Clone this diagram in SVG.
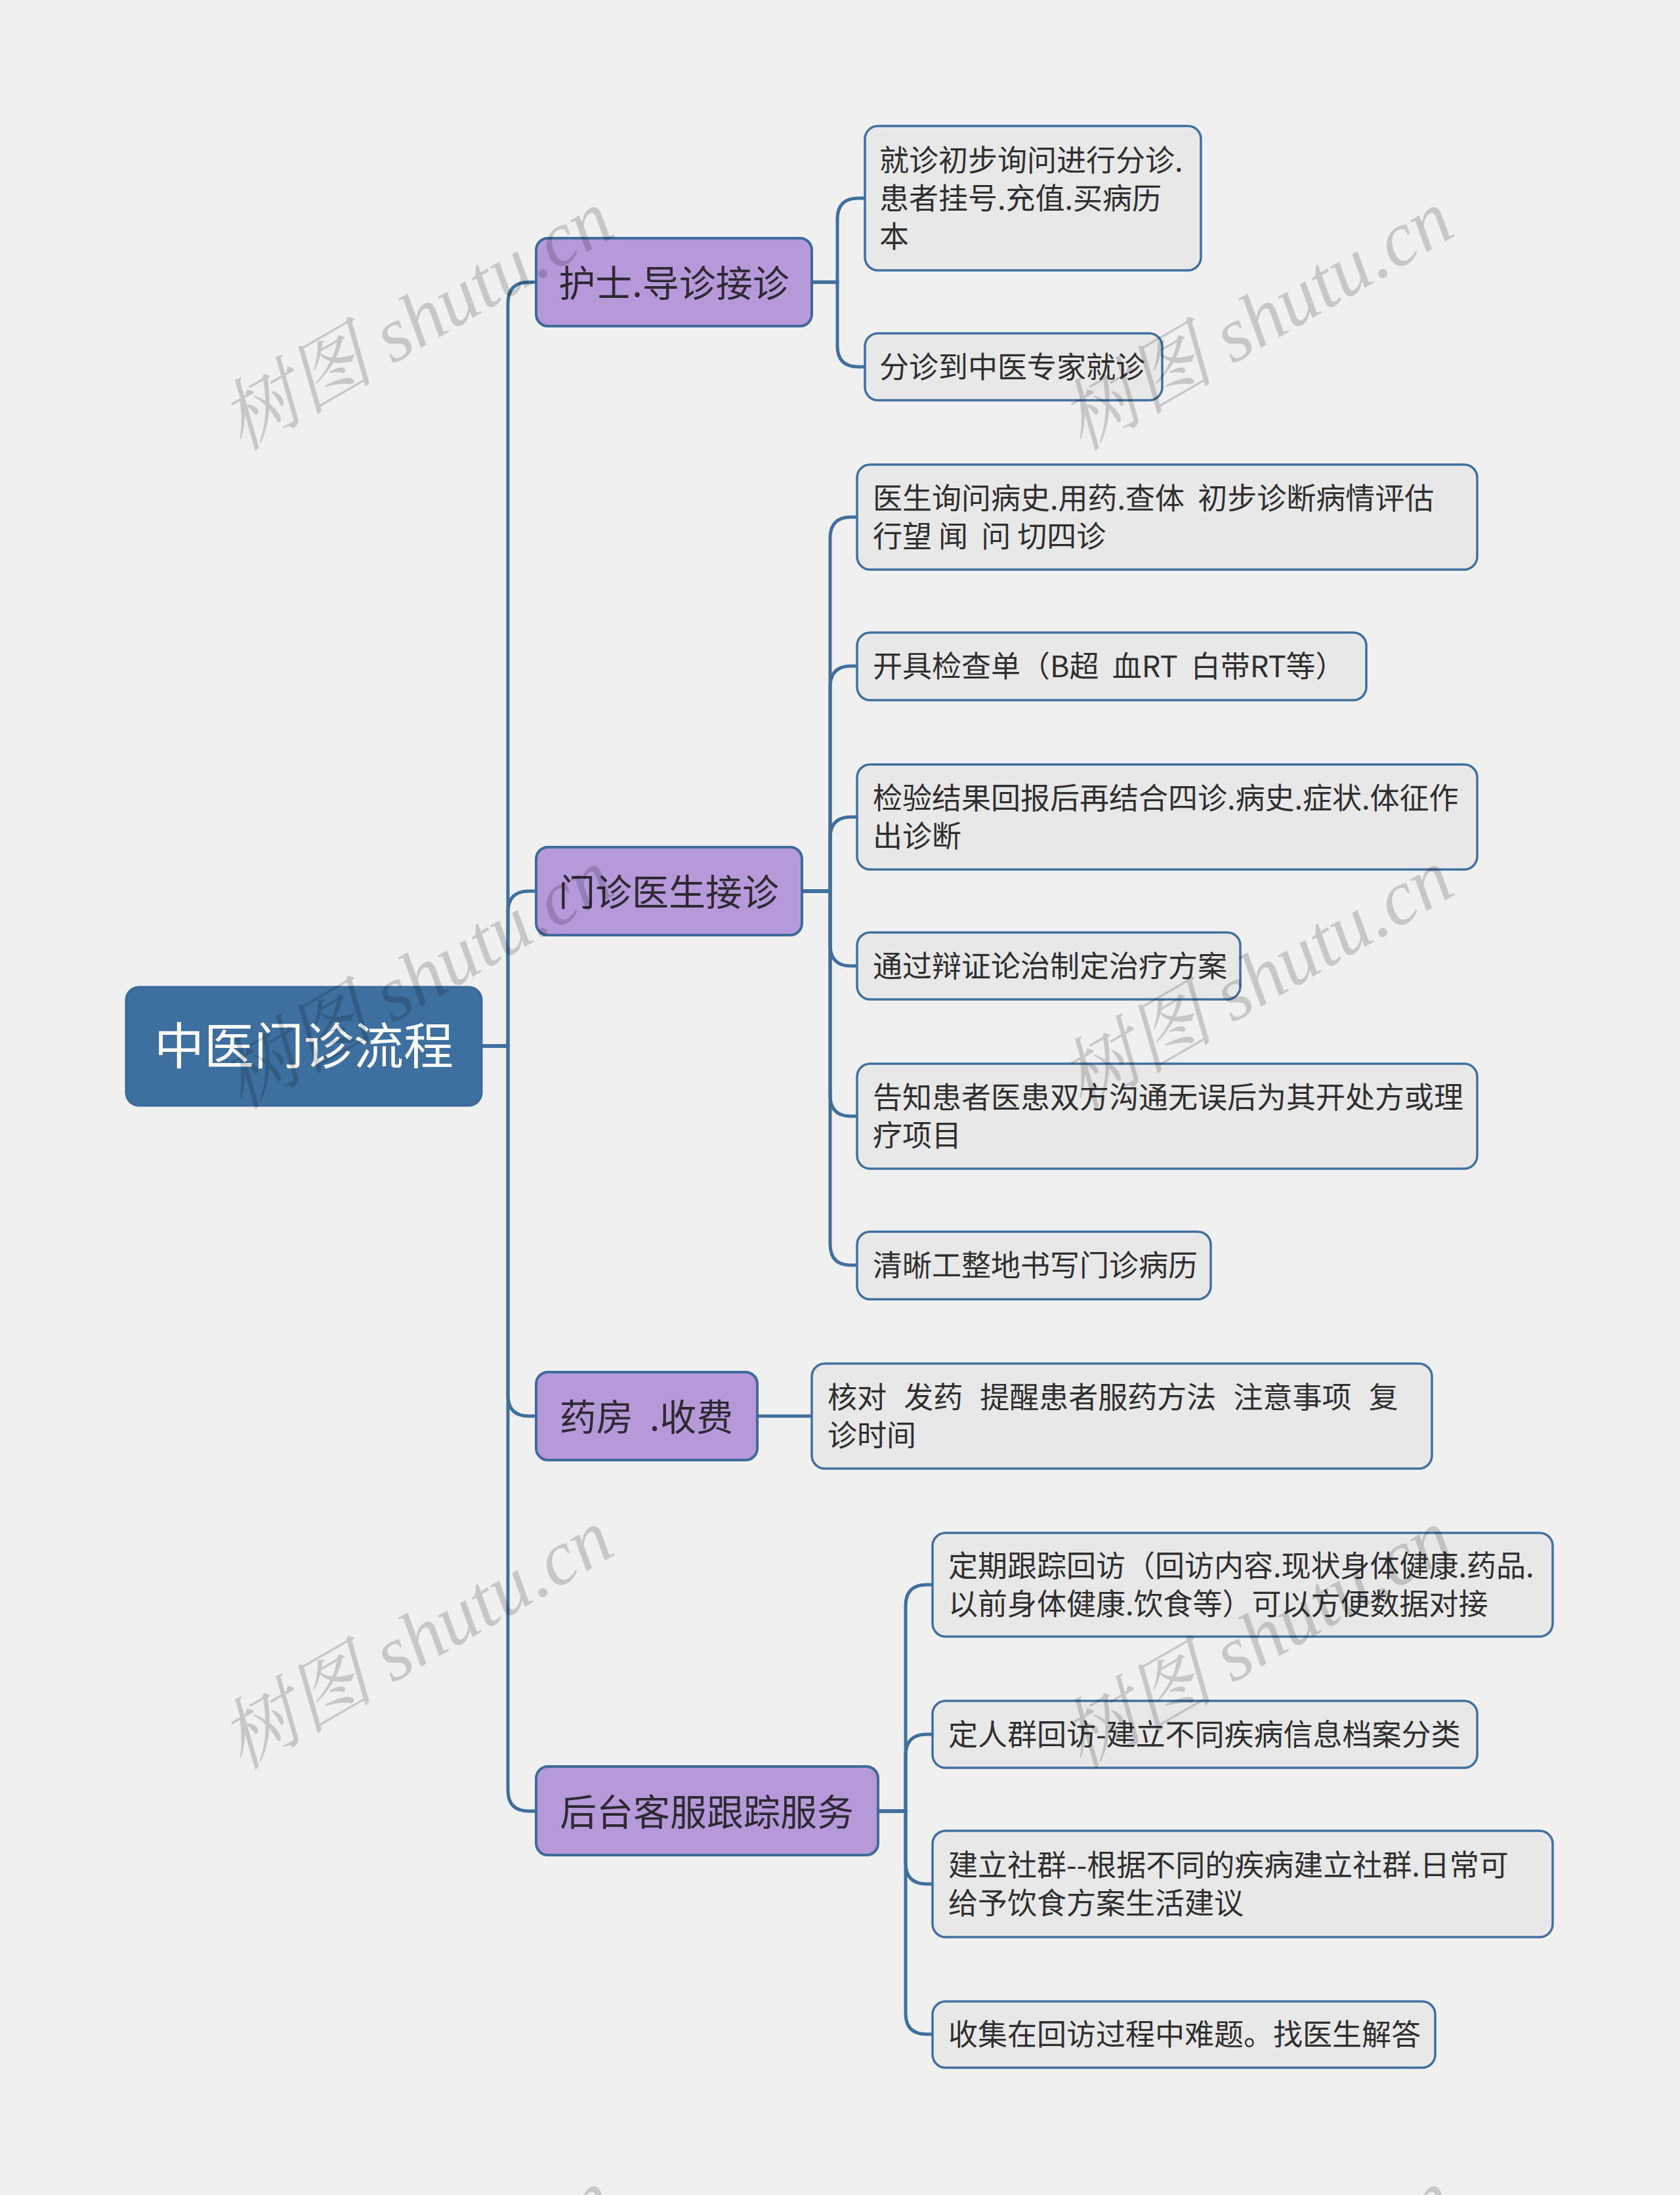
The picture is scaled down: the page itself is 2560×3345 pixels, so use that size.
<svg xmlns="http://www.w3.org/2000/svg" width="2560" height="3345" viewBox="0 0 2560 3345">
<style>
.bg{fill:#f0f0f0}
.root rect{fill:#3d6f9f;stroke:#3a6a98;stroke-width:3}
.root text{fill:#ffffff;font-size:76px;text-anchor:middle}
.l1 rect{fill:#b599d9;stroke:#3e6b99;stroke-width:4}
.l1 text{fill:#2e2a33;font-size:56px;text-anchor:middle}
.leaf rect{fill:#e8e8e8;stroke:#40709f;stroke-width:3.5}
.leaf text{fill:#2f2f2f;font-size:45px}
text{font-family:"Noto Sans CJK SC","Noto Sans",sans-serif}
.conn path{fill:none;stroke:#3f6f9c;stroke-width:5;stroke-linecap:round}
.wm text{font-family:"Liberation Serif","Noto Serif CJK SC","Noto Sans CJK SC",serif;font-style:italic;font-size:118px;fill:#000;fill-opacity:0.17}
</style>
<rect class="bg" x="0" y="0" width="2560" height="3345"/>

<g class="conn" id="connectors">
<path d="M734,1594 H774 V462 Q774,430 806,430 H817"/>
<path d="M734,1594 H774 V1390 Q774,1358 806,1358 H817"/>
<path d="M734,1594 H774 V2126 Q774,2158 806,2158 H817"/>
<path d="M734,1594 H774 V2728 Q774,2760 806,2760 H817"/>
<path d="M1237,430 H1276 V334 Q1276,302 1308,302 H1318"/>
<path d="M1237,430 H1276 V527 Q1276,559 1308,559 H1318"/>
<path d="M1222,1358 H1265 V820 Q1265,788 1297,788 H1306"/>
<path d="M1222,1358 H1265 V1047 Q1265,1015 1297,1015 H1306"/>
<path d="M1222,1358 H1265 V1277 Q1265,1245 1297,1245 H1306"/>
<path d="M1222,1358 H1265 V1440 Q1265,1472 1297,1472 H1306"/>
<path d="M1222,1358 H1265 V1669 Q1265,1701 1297,1701 H1306"/>
<path d="M1222,1358 H1265 V1896 Q1265,1928 1297,1928 H1306"/>
<path d="M1154,2158 H1237"/>
<path d="M1338,2760 H1380 V2447 Q1380,2415 1412,2415 H1421"/>
<path d="M1338,2760 H1380 V2675 Q1380,2643 1412,2643 H1421"/>
<path d="M1338,2760 H1380 V2839 Q1380,2871 1412,2871 H1421"/>
<path d="M1338,2760 H1380 V3068 Q1380,3100 1412,3100 H1421"/>
</g>

<g class="root" id="node-root">
<rect x="192" y="1504" width="542" height="181" rx="20"/>
<text x="463" y="1622">中医门诊流程</text>
</g>

<g class="l1" id="node-hushi">
<rect x="817" y="363" width="420" height="134" rx="18"/>
<text x="1027" y="452">护士.导诊接诊</text>
</g>
<g class="l1" id="node-menzhen">
<rect x="817" y="1291" width="405" height="134" rx="18"/>
<text x="1019" y="1380">门诊医生接诊</text>
</g>
<g class="l1" id="node-yaofang">
<rect x="817" y="2091" width="337" height="134" rx="18"/>
<text x="985" y="2180" xml:space="preserve">药房  .收费</text>
</g>
<g class="l1" id="node-houtai">
<rect x="817" y="2692" width="521" height="135" rx="18"/>
<text x="1077" y="2782">后台客服跟踪服务</text>
</g>

<g class="leaf" id="leaf-h1">
<rect x="1318" y="192" width="512" height="220" rx="20"/>
<text x="1340" y="261">就诊初步询问进行分诊.</text>
<text x="1340" y="319">患者挂号.充值.买病历</text>
<text x="1340" y="377">本</text>
</g>
<g class="leaf" id="leaf-h2">
<rect x="1318" y="508" width="453" height="102" rx="20"/>
<text x="1340" y="576">分诊到中医专家就诊</text>
</g>

<g class="leaf" id="leaf-m1">
<rect x="1306" y="708" width="945" height="160" rx="20"/>
<text x="1330" y="776" xml:space="preserve">医生询问病史.用药.查体  初步诊断病情评估</text>
<text x="1330" y="834" xml:space="preserve">行望 闻  问 切四诊</text>
</g>
<g class="leaf" id="leaf-m2">
<rect x="1306" y="964" width="776" height="103" rx="20"/>
<text x="1330" y="1032" xml:space="preserve">开具检查单（B超  血RT  白带RT等）</text>
</g>
<g class="leaf" id="leaf-m3">
<rect x="1306" y="1165" width="945" height="160" rx="20"/>
<text x="1330" y="1233">检验结果回报后再结合四诊.病史.症状.体征作</text>
<text x="1330" y="1291">出诊断</text>
</g>
<g class="leaf" id="leaf-m4">
<rect x="1306" y="1421" width="584" height="102" rx="20"/>
<text x="1330" y="1489">通过辩证论治制定治疗方案</text>
</g>
<g class="leaf" id="leaf-m5">
<rect x="1306" y="1621" width="945" height="160" rx="20"/>
<text x="1330" y="1689">告知患者医患双方沟通无误后为其开处方或理</text>
<text x="1330" y="1747">疗项目</text>
</g>
<g class="leaf" id="leaf-m6">
<rect x="1306" y="1877" width="539" height="103" rx="20"/>
<text x="1330" y="1945">清晰工整地书写门诊病历</text>
</g>

<g class="leaf" id="leaf-y1">
<rect x="1237" y="2078" width="945" height="160" rx="20"/>
<text x="1261" y="2146" xml:space="preserve" word-spacing="3">核对  发药  提醒患者服药方法  注意事项  复</text>
<text x="1261" y="2204">诊时间</text>
</g>

<g class="leaf" id="leaf-t1">
<rect x="1421" y="2336" width="945" height="158" rx="20"/>
<text x="1445" y="2403">定期跟踪回访（回访内容.现状身体健康.药品.</text>
<text x="1445" y="2461">以前身体健康.饮食等）可以方便数据对接</text>
</g>
<g class="leaf" id="leaf-t2">
<rect x="1421" y="2592" width="830" height="102" rx="20"/>
<text x="1445" y="2660">定人群回访-建立不同疾病信息档案分类</text>
</g>
<g class="leaf" id="leaf-t3">
<rect x="1421" y="2790" width="945" height="162" rx="20"/>
<text x="1445" y="2859">建立社群--根据不同的疾病建立社群.日常可</text>
<text x="1445" y="2917">给予饮食方案生活建议</text>
</g>
<g class="leaf" id="leaf-t4">
<rect x="1421" y="3050" width="766" height="101" rx="20"/>
<text x="1445" y="3117">收集在回访过程中难题。找医生解答</text>
</g>

<g class="wm" id="watermarks">
<text transform="translate(368,688) rotate(-30)">树图 shutu.cn</text>
<text transform="translate(1648,688) rotate(-30)">树图 shutu.cn</text>
<text transform="translate(368,1692) rotate(-30)">树图 shutu.cn</text>
<text transform="translate(1648,1692) rotate(-30)">树图 shutu.cn</text>
<text transform="translate(368,2698) rotate(-30)">树图 shutu.cn</text>
<text transform="translate(1648,2698) rotate(-30)">树图 shutu.cn</text>
<text transform="translate(368,3704) rotate(-30)">树图 shutu.cn</text>
<text transform="translate(1648,3704) rotate(-30)">树图 shutu.cn</text>
</g>
</svg>
